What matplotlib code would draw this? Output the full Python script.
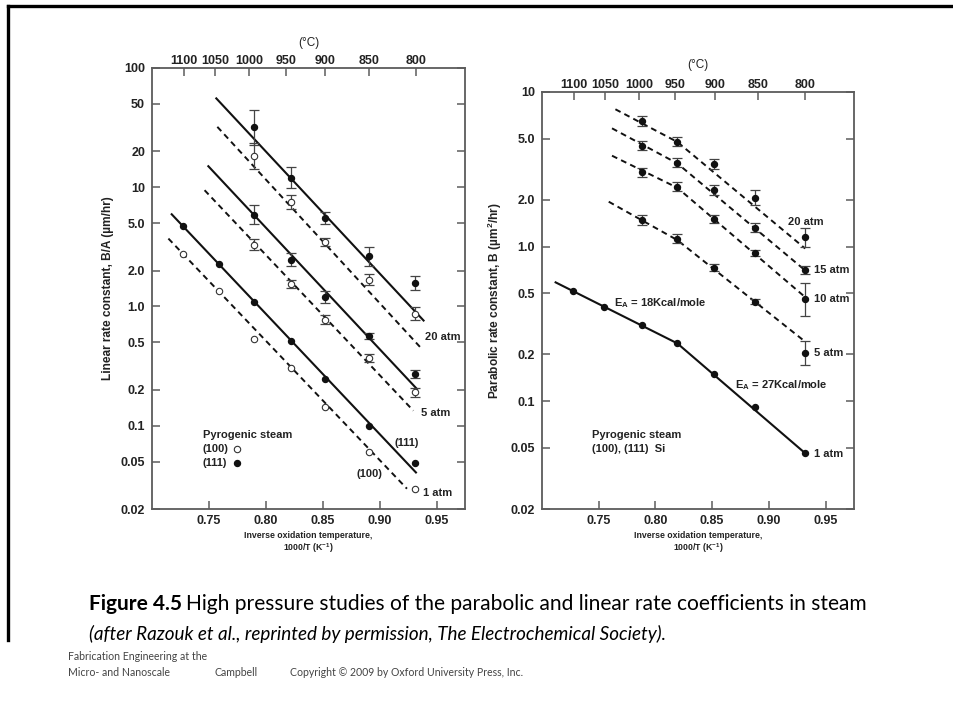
#!/usr/bin/env python3
"""High pressure steam oxidation: linear (B/A) and parabolic (B) rate constants."""

import matplotlib

matplotlib.use("Agg")
import matplotlib.pyplot as plt
from matplotlib.lines import Line2D

W, H = 954, 721

# inverse temperature (1000/T) of the measurement points, 1100 .. 800 C
inv_t = [0.7272, 0.7588, 0.7895, 0.8217, 0.8518, 0.8910, 0.9307]
inv_t_hp = inv_t[2:]  # high pressure runs start at 1000 C

# ---- linear rate constant B/A (um/hr) ----
ba_111_1atm = [4.70, 2.25, 1.10, 0.518, 0.247, 0.0987, 0.0482]
ba_100_1atm = [2.77, 1.36, 0.535, 0.303, 0.1445, 0.0597, 0.0294]
ba_111_5atm = [5.9, 2.47, 1.20, 0.57, 0.272]
ba_100_5atm = [3.3, 1.55, 0.773, 0.368, 0.19]
ba_111_20atm = [31.7, 12.0, 5.5, 2.63, 1.58]
ba_100_20atm = [18.3, 7.53, 3.47, 1.68, 0.87]

# error bars as multiplicative spread (value / f .. value * f)
ba_err_111_5atm = [1.2, 1.13, 1.13, 1.06, 1.08]
ba_err_100_5atm = [1.12, 1.08, 1.09, 1.08, 1.09]
ba_err_111_20atm = [1.4, 1.22, 1.12, 1.2, 1.15]
ba_err_100_20atm = [1.28, 1.15, 1.08, 1.12, 1.13]

# fitted lines: (x end points, y end points)
ba_fit_111_20atm = ([0.7565, 0.9386], [55.6, 0.762])
ba_fit_100_20atm = ([0.7574, 0.9357], [32.1, 0.455])
ba_fit_111_5atm = ([0.7495, 0.9328], [15.0, 0.203])
ba_fit_100_5atm = ([0.7462, 0.9296], [9.44, 0.1336])
ba_fit_111_1atm = ([0.7173, 0.9319], [5.93, 0.0405])
ba_fit_100_1atm = ([0.7144, 0.9240], [3.71, 0.0296])

# ---- parabolic rate constant B (um^2/hr) ----
inv_t_b = [0.7272, 0.7550, 0.7880, 0.8193, 0.8515, 0.8880, 0.9320]
inv_t_b_hp = inv_t_b[2:]
b_1atm = [0.518, 0.404, 0.310, 0.236, 0.149, 0.0918, 0.0459]
b_5atm = [1.48, 1.12, 0.73, 0.44, 0.204]
b_10atm = [3.02, 2.44, 1.51, 0.91, 0.455]
b_15atm = [4.49, 3.49, 2.32, 1.32, 0.705]
b_20atm = [6.52, 4.77, 3.42, 2.07, 1.15]

b_err_5atm = [1.08, 1.07, 1.05, 1.04, 1.2]
b_err_10atm = [1.07, 1.07, 1.06, 1.05, 1.28]
b_err_15atm = [1.07, 1.07, 1.07, 1.07, 1.06]
b_err_20atm = [1.08, 1.07, 1.08, 1.12, 1.15]

# two-segment fits (knee near 950 C)
b_fit_1atm = ([0.7120, 0.8193, 0.9320], [0.586, 0.236, 0.0459])
b_fit_5atm = ([0.7588, 0.8193, 0.9320], [1.95, 1.10, 0.242])
b_fit_10atm = ([0.7617, 0.8193, 0.9320], [3.87, 2.40, 0.47])
b_fit_15atm = ([0.7617, 0.8193, 0.9320], [5.82, 3.45, 0.70])
b_fit_20atm = ([0.7647, 0.8193, 0.9320], [7.73, 4.75, 0.97])

# axes ticks
x_ticks = [0.75, 0.80, 0.85, 0.90, 0.95]
x_tick_labels = ["0.75", "0.80", "0.85", "0.90", "0.95"]
celsius = [1100, 1050, 1000, 950, 900, 850, 800]
ba_ticks = [0.02, 0.05, 0.1, 0.2, 0.5, 1.0, 2.0, 5.0, 10, 20, 50, 100]
ba_tick_labels = ["0.02", "0.05", "0.1", "0.2", "0.5", "1.0", "2.0", "5.0", "10", "20", "50", "100"]
b_ticks = [0.02, 0.05, 0.1, 0.2, 0.5, 1.0, 2.0, 5.0, 10]
b_tick_labels = ["0.02", "0.05", "0.1", "0.2", "0.5", "1.0", "2.0", "5.0", "10"]

INK = "#222222"
SPINE = "#5c5c5c"
BOLD = ["Liberation Sans", "DejaVu Sans"]
NARROW = ["Liberation Sans Narrow", "Liberation Sans", "DejaVu Sans"]

plt.rcParams["font.family"] = BOLD
plt.rcParams["font.weight"] = "bold"
plt.rcParams["mathtext.default"] = "regular"


def px_axes(fig, x0, y0, x1, y1):
    return fig.add_axes([x0 / W, 1 - y1 / H, (x1 - x0) / W, (y1 - y0) / H])


def style_axes(ax, yticks, ylabels, ylim):
    ax.set_yscale("log")
    ax.set_xlim(0.70, 0.975)
    ax.set_ylim(*ylim)
    ax.set_xticks(x_ticks)
    ax.set_xticklabels(x_tick_labels)
    ax.set_yticks(yticks)
    ax.set_yticklabels(ylabels)
    ax.minorticks_off()
    ax.tick_params(direction="in", length=6, width=1.1, color=SPINE,
                   labelsize=9, labelcolor=INK, right=True, pad=4)
    ax.tick_params(axis="y", pad=5)
    for sp in ax.spines.values():
        sp.set_color(SPINE)
        sp.set_linewidth(1.3)
    for lab in ax.get_xticklabels() + ax.get_yticklabels():
        lab.set_fontweight("bold")
    ax.set_xlabel("Inverse oxidation temperature,\n1000/T (K$^{-1}$)",
                  fontsize=6.3, family=NARROW, weight="bold", color=INK,
                  labelpad=3, linespacing=1.2)

    top = ax.twiny()
    top.set_xlim(ax.get_xlim())
    top.set_xticks([1000.0 / (c + 273.15) for c in celsius])
    top.set_xticklabels([str(c) for c in celsius])
    top.tick_params(direction="in", length=6, width=1.1, color=SPINE,
                    labelsize=9, labelcolor=INK, pad=0.5)
    top.minorticks_off()
    for sp in top.spines.values():
        sp.set_visible(False)
    top.set_xlabel("(°C)", fontsize=8.5, color=INK, labelpad=0)
    return top


def err_bars(ax, x, y, f, filled):
    lo = [v - v / k for v, k in zip(y, f)]
    hi = [v * k - v for v, k in zip(y, f)]
    ax.errorbar(x, y, yerr=[lo, hi], fmt="none", ecolor="#444444",
                elinewidth=0.9, capsize=3.3, capthick=0.9, zorder=3)
    points(ax, x, y, filled)


def points(ax, x, y, filled):
    if filled:
        ax.plot(x, y, "o", ms=4.3, mfc="#111111", mec="#111111", zorder=4)
    else:
        ax.plot(x, y, "o", ms=4.6, mfc="white", mec="#333333", mew=0.8, zorder=4)


def fit(ax, line, dashed):
    ax.plot(line[0], line[1], color="#111111", lw=1.5 if not dashed else 1.4,
            ls=(0, (3.0, 2.2)) if dashed else "-", zorder=2)


fig = plt.figure(figsize=(W / 100, H / 100), dpi=100)
fig.patch.set_facecolor("white")

# slide frame
fig.add_artist(Line2D([8 / W, 1.0], [1 - 6 / H, 1 - 6 / H], color="black", lw=2.4))
fig.add_artist(Line2D([8 / W, 8 / W], [1 - 6 / H, 1 - 640 / H], color="black", lw=2.4))

# ---------------- left: linear rate constant ----------------
ax1 = px_axes(fig, 152, 68, 465, 509)
top1 = style_axes(ax1, ba_ticks, ba_tick_labels, (0.02, 100))
top1.xaxis.set_label_coords(0.5, 1.043)
top1.xaxis.label.set_va("bottom")
ax1.set_ylabel("Linear rate constant, B/A (µm/hr)", fontsize=8.6,
               family=NARROW, weight="bold", color=INK, labelpad=5)

for line, dashed in [(ba_fit_111_20atm, False), (ba_fit_100_20atm, True),
                     (ba_fit_111_5atm, False), (ba_fit_100_5atm, True),
                     (ba_fit_111_1atm, False), (ba_fit_100_1atm, True)]:
    fit(ax1, line, dashed)

err_bars(ax1, inv_t_hp, ba_111_20atm, ba_err_111_20atm, True)
err_bars(ax1, inv_t_hp, ba_100_20atm, ba_err_100_20atm, False)
err_bars(ax1, inv_t_hp, ba_111_5atm, ba_err_111_5atm, True)
err_bars(ax1, inv_t_hp, ba_100_5atm, ba_err_100_5atm, False)
points(ax1, inv_t, ba_111_1atm, True)
points(ax1, inv_t, ba_100_1atm, False)

lab = dict(fontsize=8, color=INK, va="center", ha="left")
ax1.text(0.940, 0.55, "20 atm", **lab)
ax1.text(0.936, 0.128, "5 atm", **lab)
ax1.text(0.938, 0.0273, "1 atm", **lab)
ax1.text(0.913, 0.072, "(111)", **lab)
ax1.text(0.8795, 0.0395, "(100)", **lab)
ax1.text(0.7445, 0.084, "Pyrogenic steam", **lab)
ax1.text(0.7445, 0.064, "(100)", **lab)
ax1.text(0.7445, 0.049, "(111)", **lab)
points(ax1, [0.7745], [0.064], False)
points(ax1, [0.7745], [0.049], True)

# ---------------- right: parabolic rate constant ----------------
ax2 = px_axes(fig, 542, 92, 854, 509)
top2 = style_axes(ax2, b_ticks, b_tick_labels, (0.02, 10))
top2.xaxis.set_label_coords(0.5, 1.05)
top2.xaxis.label.set_va("bottom")
ax2.set_ylabel("Parabolic rate constant, B (µm$^{2}$/hr)", fontsize=8.6,
               family=NARROW, weight="bold", color=INK, labelpad=5)

fit(ax2, b_fit_1atm, False)
for line in [b_fit_5atm, b_fit_10atm, b_fit_15atm, b_fit_20atm]:
    fit(ax2, line, True)

points(ax2, inv_t_b, b_1atm, True)
err_bars(ax2, inv_t_b_hp, b_5atm, b_err_5atm, True)
err_bars(ax2, inv_t_b_hp, b_10atm, b_err_10atm, True)
err_bars(ax2, inv_t_b_hp, b_15atm, b_err_15atm, True)
err_bars(ax2, inv_t_b_hp, b_20atm, b_err_20atm, True)

ax2.text(0.9164, 1.44, "20 atm", **lab)
ax2.text(0.940, 0.705, "15 atm", **lab)
ax2.text(0.940, 0.457, "10 atm", **lab)
ax2.text(0.940, 0.205, "5 atm", **lab)
ax2.text(0.940, 0.0454, "1 atm", **lab)
ax2.text(0.7638, 0.431, "E$_{A}$ = 18Kcal/mole", **lab)
ax2.text(0.870, 0.127, "E$_{A}$ = 27Kcal/mole", **lab)
ax2.text(0.7445, 0.060, "Pyrogenic steam", **lab)
ax2.text(0.7445, 0.0489, "(100), (111)  Si", **lab)

# ---------------- caption and footer ----------------
CAP = ["Lato", "DejaVu Sans"]
fig.canvas.draw()
renderer = fig.canvas.get_renderer()
t = fig.text(89 / W, 1 - 604 / H, "Figure 4.5", family=CAP, fontsize=15,
             weight="bold", color="black", va="center", ha="left")
bb = t.get_window_extent(renderer)
fig.text((bb.x1 + 4) / W, 1 - 604 / H,
         "High pressure studies of the parabolic and linear rate coefficients in steam",
         family=CAP, fontsize=15.1, weight="normal", color="black",
         va="center", ha="left")
fig.text(89 / W, 1 - 634 / H,
         "(after Razouk et al., reprinted by permission, The Electrochemical Society).",
         family=CAP, fontsize=13.6, weight="normal", style="italic",
         color="black", va="center", ha="left")

foot = dict(family=CAP, fontsize=7.6, weight="normal", color="#444444",
            va="center", ha="left")
fig.text(68 / W, 1 - 657 / H, "Fabrication Engineering at the", **foot)
fig.text(68 / W, 1 - 673 / H, "Micro- and Nanoscale", **foot)
fig.text(215 / W, 1 - 673 / H, "Campbell", **foot)
fig.text(290 / W, 1 - 673 / H, "Copyright © 2009 by Oxford University Press, Inc.", **foot)

fig.savefig("out.png", dpi=100)
